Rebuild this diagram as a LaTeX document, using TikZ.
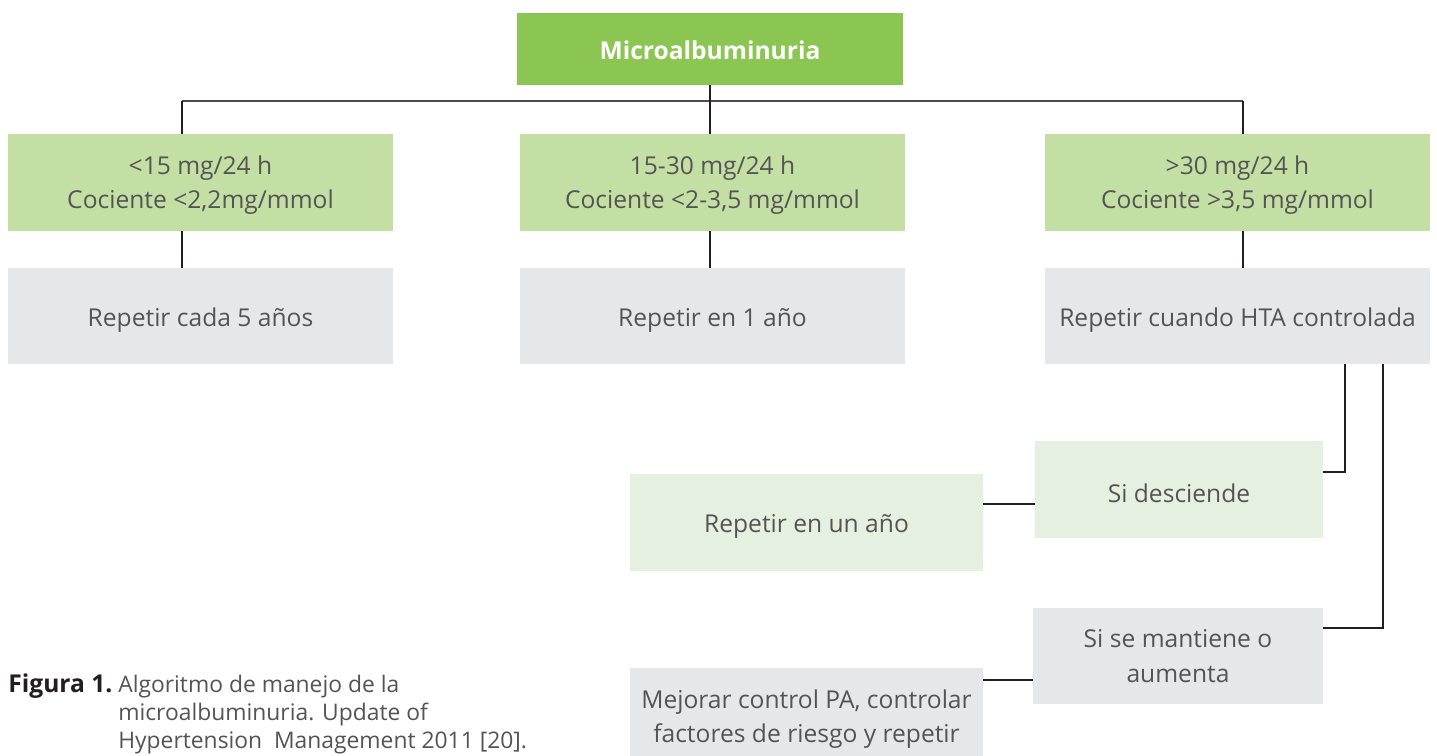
\documentclass[tikz,border=0pt]{standalone}
\usepackage{fontspec}
\setmainfont{Open Sans}
\definecolor{topgreen}{HTML}{8BC653}
\definecolor{critgreen}{HTML}{C4DFA4}
\definecolor{palegreen}{HTML}{E5F0E1}
\definecolor{boxgray}{HTML}{E6E7E8}
\definecolor{txtgray}{HTML}{545454}
\definecolor{linegray}{HTML}{231F20}
\tikzset{
  cell/.style={inner sep=0pt, align=center, text=txtgray,
    font=\fontsize{14}{19.5}\selectfont, text height=15pt},
  twoline/.style={text height=, text depth=0pt},
  crit/.style={cell, twoline, fill=critgreen, minimum width=7.7cm, minimum height=1.94cm},
  action/.style={cell, fill=boxgray, minimum width=7.7cm, minimum height=1.92cm},
  link/.style={draw=linegray, line width=1.6pt},
}
\begin{document}
\begin{tikzpicture}[x=0.02cm,y=-0.02cm]
\clip (0,0) rectangle (1437,756);
\fill[white] (0,0) rectangle (1437,756);

\node[cell, fill=topgreen, text=white, minimum width=7.72cm, minimum height=1.44cm,
  font=\fontsize{14}{16}\bfseries, text height=12.5pt]
  (top) at (710,49) {Microalbuminuria};

\node[crit] (low) at (200.5,182.5) {<15 mg/24 h\\Cociente <2,2mg/mmol};
\node[crit] (mid) at (712.5,182.5) {15-30 mg/24 h\\Cociente <2-3,5 mg/mmol};
\node[crit] (high) at (1237.5,182.5) {>30 mg/24 h\\Cociente >3,5 mg/mmol};

\node[action] (lowrep) at (200.5,316) {Repetir cada 5 años};
\node[action] (midrep) at (712.5,316) {Repetir en 1 año};
\node[action] (highrep) at (1237.5,316) {Repetir cuando HTA controlada};

\node[cell, fill=palegreen, minimum width=5.76cm, minimum height=1.94cm] (desc) at (1179,489.5) {Si desciende};
\node[cell, twoline, text depth=-2.5pt, fill=boxgray, minimum width=5.8cm, minimum height=1.92cm] (keep) at (1178,656) {Si se mantiene o\\aumenta};
\node[cell, fill=palegreen, minimum width=7.06cm, minimum height=1.94cm] (oneyear) at (806.5,522.5) {Repetir en un año};
\node[cell, twoline, text depth=-2.5pt, fill=boxgray, minimum width=7.06cm, minimum height=1.92cm] (improve) at (806.5,716) {Mejorar control PA, controlar\\factores de riesgo y repetir};

% branches
\coordinate (jl) at (182,101);
\coordinate (jr) at (1243,101);
\draw[draw=linegray!80, line width=1.1pt] (jl) -- (jr);
\draw[link] (top.south) -- (top.south |- mid.north);
\draw[link] (jl) -- (jl |- low.north);
\draw[link] (jr) -- (jr |- high.north);
\draw[link] (jl |- low.south) -- (jl |- lowrep.north);
\draw[link] (top.south |- mid.south) -- (top.south |- midrep.north);
\draw[link] (jr |- high.south) -- (jr |- highrep.north);

% follow-up
\coordinate (da) at (1345,472);
\coordinate (ka) at (1383,628);
\draw[link] (da |- highrep.south) -- (da) -- (da -| desc.east);
\draw[link] (ka |- highrep.south) -- (ka) -- (ka -| keep.east);
\coordinate (db) at (1009,504);
\coordinate (kb) at (1008,680);
\draw[link] (db -| desc.west) -- (db -| oneyear.east);
\draw[link] (kb -| keep.west) -- (kb -| improve.east);

% caption
\node[inner sep=0pt, anchor=base west, text=linegray,
  font=\fontsize{14}{16}\bfseries] (fig) at (8,692) {Figura 1.};
\node[inner sep=0pt, anchor=base west, align=left, text=txtgray,
  font=\fontsize{13}{15.9}\selectfont] (cap) at (118,748)
  {Algoritmo de manejo de la\\microalbuminuria. Update of\\Hypertension~ Management 2011 [20].};
\end{tikzpicture}
\end{document}
